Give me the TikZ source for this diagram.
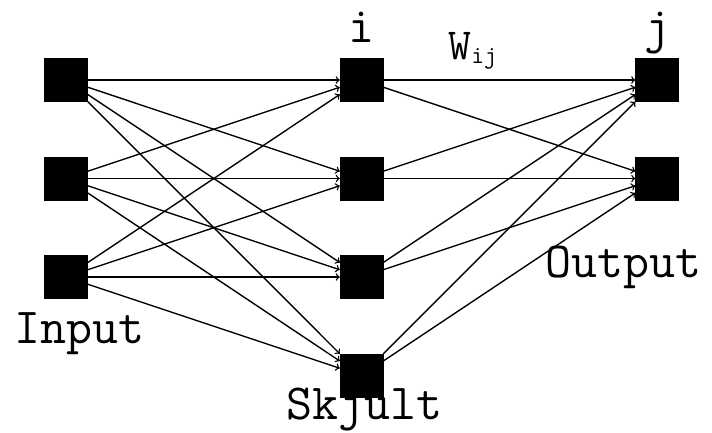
\documentclass[tikz,border=0pt]{standalone}
\usepackage{tikz}

\tikzset{
  unit/.style={draw,fill=black,minimum size=1.09cm,inner sep=0pt},
  lbl/.style={font=\fontsize{36.5}{40}\selectfont\ttfamily,inner sep=0pt},
  wire/.style={line width=1pt,->},
}

\begin{document}
\begin{tikzpicture}[x=2.5cm,y=2.5cm,>=to]
	\useasboundingbox (-0.670,0.812) rectangle (6.558,-3.574);
	% the three layers
	\foreach \k in {1,2,3} \node[unit] (in\k) at (0,1-\k) {};
	\foreach \k in {1,...,4} \node[unit] (hid\k) at (3,1-\k) {};
	\foreach \k in {1,2} \node[unit] (out\k) at (6,1-\k) {};
	% weights
	\foreach \a in {1,2,3} \foreach \b in {1,...,4} \draw[wire] (in\a) -- (hid\b);
	\foreach \a in {1,...,4} \foreach \b in {1,2} \draw[wire] (hid\a) -- (out\b);
	% labels
	\node[lbl,anchor=base] (labi) at (3,0.376) {i};
	\node[lbl,anchor=base] (labj) at (6,0.376) {j};
	\node[lbl,anchor=base west] (weight) at (3.88,0.203) {\fontsize{32}{35}\selectfont W\raisebox{-0.08cm}{\fontsize{18}{20}\selectfont ij}};
	\node[lbl,anchor=base] (input) at (0.14,-2.670) {Input};
	\node[lbl,anchor=base] (output) at (5.66,-2.0) {Output};
	\node[lbl,anchor=base] (hidden) at (3.03,-3.45) {Skjult};
\end{tikzpicture}
\end{document}
